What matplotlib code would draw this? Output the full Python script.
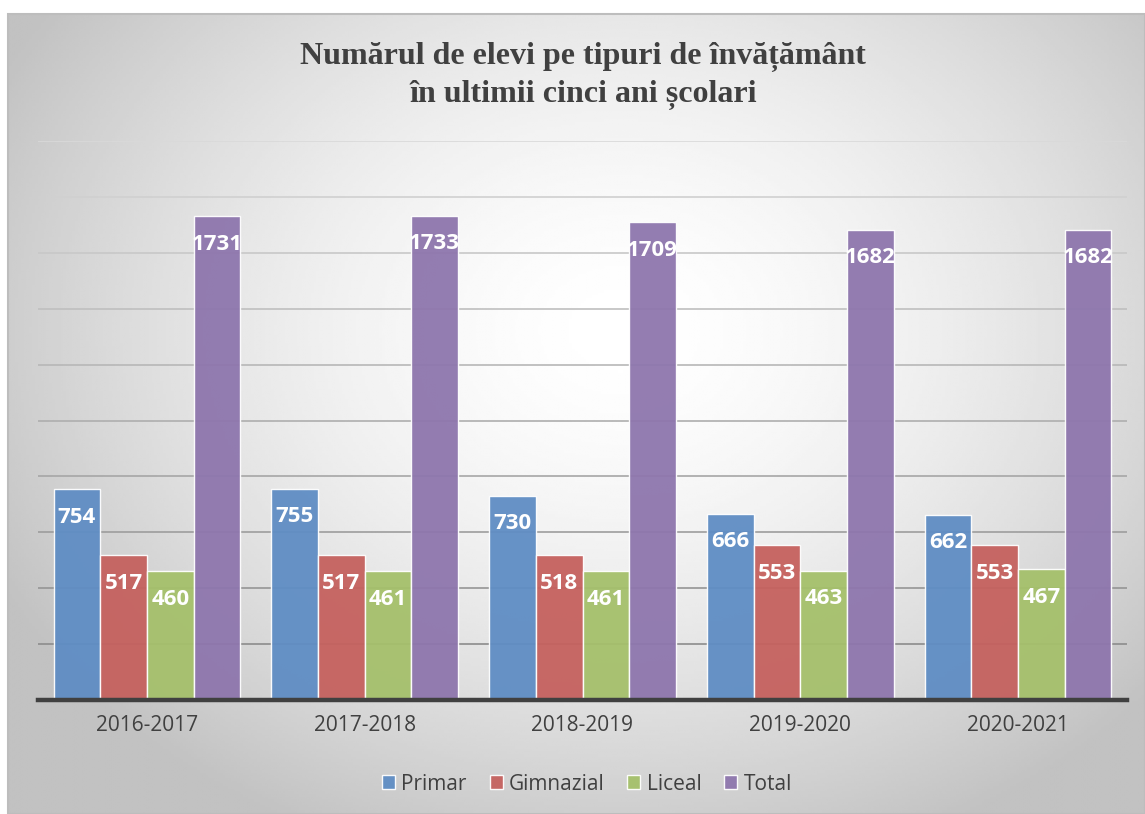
import numpy as np
import matplotlib.pyplot as plt
from matplotlib.patches import Rectangle

years = ['2016-2017', '2017-2018', '2018-2019', '2019-2020', '2020-2021']
primar = [754, 755, 730, 666, 662]
gimnazial = [517, 517, 518, 553, 553]
liceal = [460, 461, 461, 463, 467]
total = [1731, 1733, 1709, 1682, 1682]
series_names = ['Primar', 'Gimnazial', 'Liceal', 'Total']
series_vals = [primar, gimnazial, liceal, total]
colors = ['#5f8dc4', '#c5615e', '#a5c06b', '#8e76ad']
grid_vals = list(range(200, 2001, 200))
title_lines = ['Numărul de elevi pe tipuri de învățământ', 'în ultimii cinci ani școlari']

W, H = 1145, 814
fig = plt.figure(figsize=(W / 100, H / 100), dpi=100)
fig.patch.set_facecolor('white')

# grey radial background of the chart area
bx0, btop = 8, 14
bg_ax = fig.add_axes([bx0 / W, 0, 1 - bx0 / W, 1 - btop / H], zorder=0)
xs = np.linspace(bx0, W, 400)
ys = np.linspace(btop, H, 300)
X, Y = np.meshgrid(xs, ys)
d = np.sqrt(((X - 620) / 700) ** 2 + ((Y - 330) / 560) ** 2)
val = 1 - 0.24 * np.clip(d, 0, 1) ** 1.6
bg_ax.imshow(val, cmap='gray', vmin=0, vmax=1, aspect='auto', interpolation='bilinear')
bg_ax.set_axis_off()
fig.patches.append(Rectangle((bx0 / W, 0), 1 - bx0 / W, 1 - btop / H, transform=fig.transFigure,
                             fill=False, edgecolor='#bdbdbd', lw=1.5, zorder=0.5))

ax = fig.add_axes([38 / W, 114 / H, 1089 / W, 559 / H], zorder=1)
ax.patch.set_alpha(0)

x = np.arange(len(years))
w = 0.214
for i, (name, vals, c) in enumerate(zip(series_names, series_vals, colors)):
    bars = ax.bar(x + (i - 1.5) * w, vals, w, color=c, alpha=0.95,
                  edgecolor=(1, 1, 1, 0.6), linewidth=1, zorder=3, label=name)
    for rect, v in zip(bars, vals):
        ax.annotate(str(v), (rect.get_x() + rect.get_width() / 2, v),
                    xytext=(0, -28), textcoords='offset pixels',
                    ha='center', va='center', color='white',
                    fontweight='bold', fontsize=16, family='Open Sans', zorder=4)

# gridlines get darker towards the bottom
for k, g in enumerate(grid_vals):
    t = k / (len(grid_vals) - 1)
    shade = 0.55 + 0.30 * t
    ax.axhline(g, color=(shade, shade, shade), lw=1.2, zorder=1)

ax.set_ylim(0, 2000)
ax.set_xlim(-0.5, len(years) - 0.5)
ax.set_yticks([])
for s in ['top', 'left', 'right']:
    ax.spines[s].set_visible(False)
ax.spines['bottom'].set_color('#404040')
ax.spines['bottom'].set_linewidth(3.2)
ax.spines['bottom'].set_zorder(5)
ax.set_xticks(x, years)
ax.tick_params(axis='x', length=0, pad=11, labelsize=15, labelcolor='#404040')
for lbl in ax.get_xticklabels():
    lbl.set_family('Open Sans')

handles, labels = ax.get_legend_handles_labels()
fig.legend(handles, labels, loc='center', bbox_to_anchor=(587 / W, 30 / H), ncol=4,
           frameon=False, prop={'family': 'Open Sans', 'size': 15},
           labelcolor='#404040', handlelength=0.62, handleheight=0.62,
           handletextpad=0.3, columnspacing=1.1)

for yy, line in zip([57, 95], title_lines):
    fig.text(583 / W, 1 - yy / H, line, ha='center', va='center', family='Liberation Serif',
             fontweight='bold', fontsize=23, color='#404040')

fig.savefig('out.png', dpi=100)
